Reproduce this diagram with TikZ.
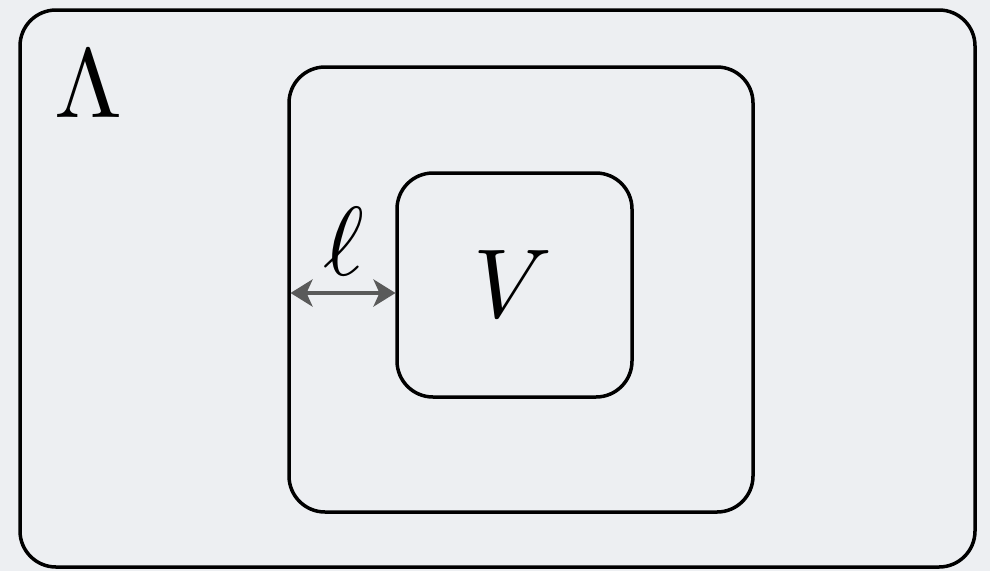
\documentclass[tikz,border=0pt]{standalone}
\usepackage{graphicx}
\usetikzlibrary{arrows.meta}
\definecolor{bg}{HTML}{EDEFF2}
\definecolor{arr}{HTML}{5A5A5A}
\tikzset{
  region/.style={draw=black, line width=3.5pt, rounded corners=36pt, rectangle, inner sep=0pt, outer sep=0pt},
  bigsym/.style={inner sep=0pt, anchor=base},
  dim/.style={draw=arr, line width=4pt, {Stealth[length=22pt,width=27pt,inset=6pt]}-{Stealth[length=22pt,width=27pt,inset=6pt]}}
}
\newcommand{\bigmath}[1]{\scalebox{9.8}{$#1$}}
\begin{document}
\begin{tikzpicture}[x=1pt,y=-1pt]
\fill[bg] (0,0) rectangle (990,571);
\useasboundingbox (0,0) rectangle (990,571);
\node[region, minimum width=955pt, minimum height=557pt] (outer) at (497.5,288.5) {};
\node[region, minimum width=464pt, minimum height=445pt] (mid) at (521,289.5) {};
\node[region, minimum width=235pt, minimum height=224pt] (inner) at (514.5,285) {};
\node[bigsym] (lam) at (88.5,117) {\bigmath{\Lambda}};
\node[bigsym] (vv) at (513,317) {\bigmath{V}};
\node[bigsym] (ell) at (344,275) {\bigmath{\ell}};
\coordinate (ay) at (0,293);
\draw[dim] ([xshift=1.5pt]mid.west |- ay) -- ([xshift=-1.5pt]inner.west |- ay);
\end{tikzpicture}
\end{document}
